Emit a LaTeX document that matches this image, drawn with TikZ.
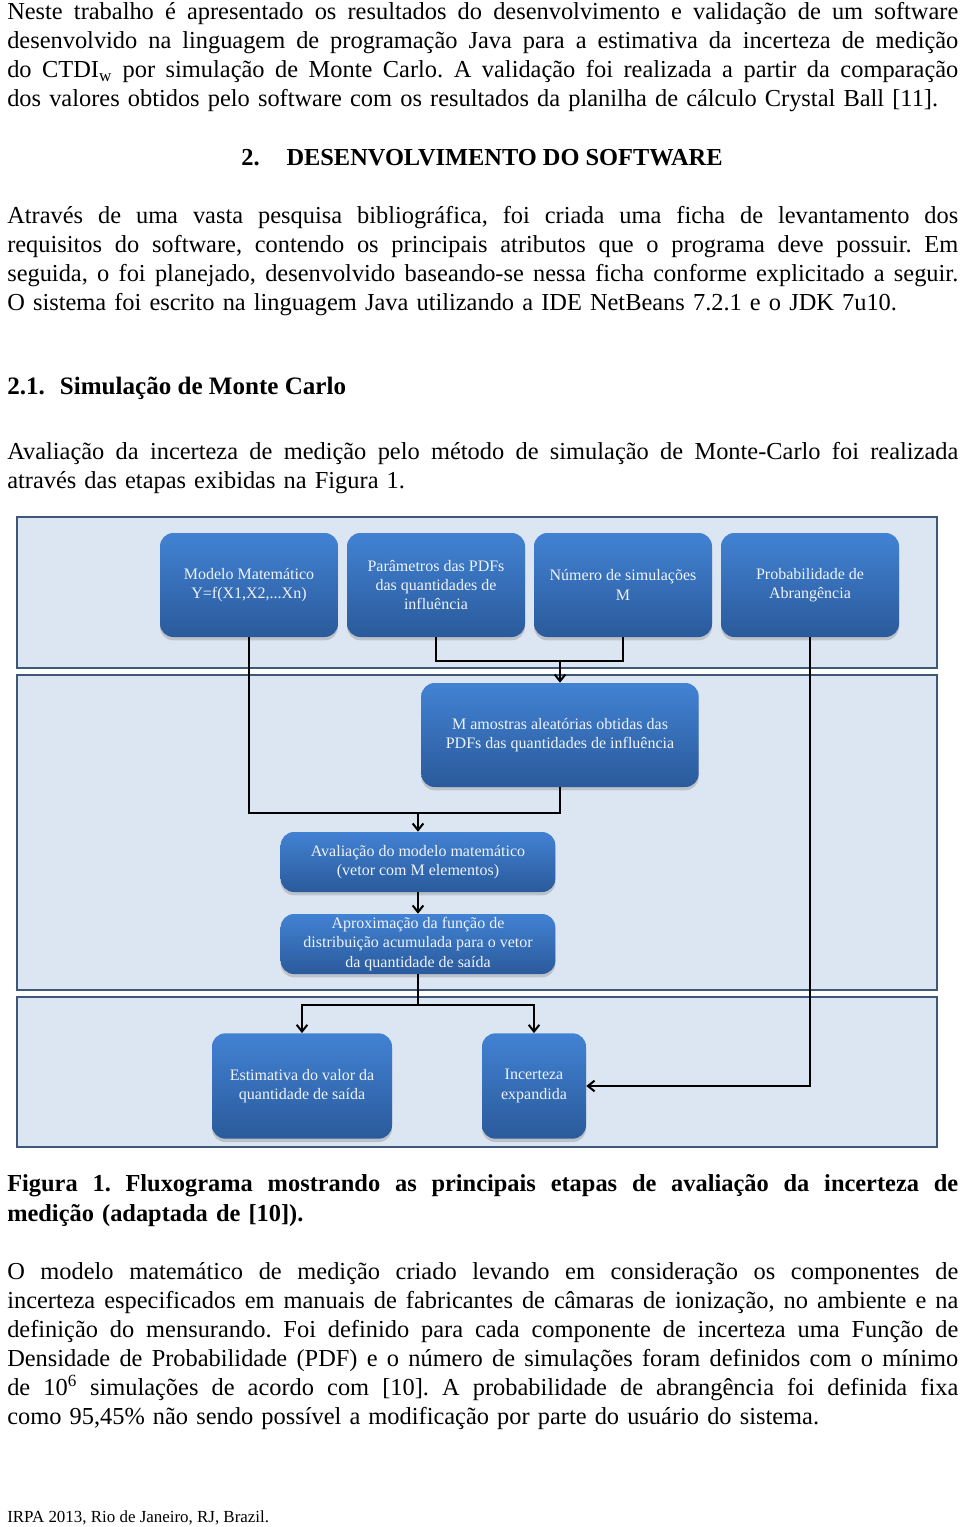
\documentclass[tikz,border=0pt]{standalone}
\usepackage{fontspec}
\setmainfont{Liberation Serif}
\usepackage{xcolor}
\usepackage{tikz}
\usetikzlibrary{arrows.meta}
\usetikzlibrary{shadows}
\tikzset{>={Straight Barb[length=5pt,width=8pt]}}
\definecolor{bandfill}{HTML}{DCE6F2}
\definecolor{bandline}{HTML}{3E5878}
\definecolor{boxtop}{HTML}{4282D3}
\definecolor{boxbot}{HTML}{2A5A9B}
\definecolor{boxtext}{HTML}{EEF3FA}
\newlength{\parwd}
\setlength{\parwd}{713.25pt}
\tikzstyle{band} = [draw=bandline, fill=bandfill, line width=1.2pt]
\tikzstyle{stepbox} = [rectangle, rounded corners=10pt, top color=boxtop, bottom color=boxbot, text=boxtext, align=center, inner sep=2pt, font=\fontsize{12}{14.5}\selectfont, drop shadow={shadow xshift=0pt, shadow yshift=-2.5pt, opacity=0.35}]
\tikzstyle{flow} = [line width=1.5pt, draw=black]
\tikzstyle{para} = [anchor=base west, inner sep=0pt, text width=\parwd, align=left, font=\fontsize{18.3}{21.75}\selectfont\frenchspacing]
\newcommand{\fullline}[1]{\leavevmode\hbox to \parwd{\spaceskip=0.25em plus 2em minus 0.08em\relax #1}\par}

\begin{document}
\begin{tikzpicture}[x=0.75pt, y=-0.75pt]
\fill [white] (0, 0) rectangle (960, 1527);
\useasboundingbox (0, 0) rectangle (960, 1527);
% text above the figure
\node [para] (intro) at (7, 20) {%
\fullline{Neste trabalho é apresentado os resultados do desenvolvimento e validação de um software}
\fullline{desenvolvido na linguagem de programação Java para a estimativa da incerteza de medição}
\fullline{do CTDI\textsubscript{w} por simulação de Monte Carlo. A validação foi realizada a partir da comparação}
dos valores obtidos pelo software com os resultados da planilha de cálculo Crystal Ball [11].};
\node [anchor=base, inner sep=0pt, font=\fontsize{18.3}{21.75}\selectfont\bfseries] (sec2) at (482, 165) {2.\hspace{1.1em}DESENVOLVIMENTO DO SOFTWARE};
\node [para] (par2) at (7, 223) {%
\fullline{Através de uma vasta pesquisa bibliográfica, foi criada uma ficha de levantamento dos}
\fullline{requisitos do software, contendo os principais atributos que o programa deve possuir. Em}
\fullline{seguida, o foi planejado, desenvolvido baseando-se nessa ficha conforme explicitado a seguir.}
O sistema foi escrito na linguagem Java utilizando a IDE NetBeans 7.2.1 e o JDK 7u10.};
\node [anchor=base west, inner sep=0pt, font=\fontsize{18.8}{21.75}\selectfont\bfseries] (sec21) at (7, 394) {2.1.\hspace{0.6em}Simulação de Monte Carlo};
\node [para] (par3) at (7, 459) {%
\fullline{Avaliação da incerteza de medição pelo método de simulação de Monte-Carlo foi realizada}
através das etapas exibidas na Figura 1.};
% figure bands
\draw [band] (17, 517) rectangle (937, 668);
\draw [band] (17, 675) rectangle (937, 990);
\draw [band] (17, 997) rectangle (937, 1147);
% steps
\node [stepbox, minimum width=133.5pt, minimum height=78pt] (model) at (249, 585) {Modelo Matemático\\Y=f(X1,X2,...Xn)};
\node [stepbox, minimum width=133.5pt, minimum height=78pt] (param) at (436, 585) {Parâmetros das PDFs\\das quantidades de\\influência};
\node [stepbox, minimum width=133.5pt, minimum height=78pt] (nsim) at (623, 585) {Número de simulações\\M};
\node [stepbox, minimum width=133.5pt, minimum height=78pt] (prob) at (810, 585) {Probabilidade de\\Abrangência};
\node [stepbox, minimum width=208pt, minimum height=78pt] (samples) at (560, 735) {M amostras aleatórias obtidas das\\PDFs das quantidades de influência};
\node [stepbox, minimum width=206pt, minimum height=45pt] (evalm) at (418, 862) {Avaliação do modelo matemático\\(vetor com M elementos)};
\node [stepbox, minimum width=206pt, minimum height=45pt] (cdf) at (418, 944) {Aproximação da função de\\distribuição acumulada para o vetor\\da quantidade de saída};
\node [stepbox, minimum width=135pt, minimum height=79pt] (estim) at (302, 1086) {Estimativa do valor da\\quantidade de saída};
\node [stepbox, minimum width=78pt, minimum height=79pt] (unc) at (534, 1086) {Incerteza\\expandida};
% junctions
\coordinate (j23) at (560, 661);
\coordinate (j15) at (418, 813);
\coordinate (j7) at (418, 1005);
% connectors
\draw [flow] (param.south) |- (j23) -| (nsim.south);
\draw [flow, ->] (j23) to (samples.north);
\draw [flow] (model.south) |- (j15) -| (samples.south);
\draw [flow, ->] (j15) to (evalm.north);
\draw [flow, ->] (evalm) to (cdf);
\draw [flow] (cdf.south) to (j7);
\draw [flow, ->] (j7) -| (estim.north);
\draw [flow, ->] (j7) -| (unc.north);
\draw [flow, ->] (prob.south) |- (unc.east);
% caption and text below
\node [para, font=\fontsize{18.3}{22.5}\selectfont\bfseries\frenchspacing] (caption) at (7, 1191) {%
\fullline{Figura 1.\hspace{0.6em}Fluxograma mostrando as principais etapas de avaliação da incerteza de}
medição (adaptada de [10]).};
\node [para] (par4) at (7, 1279) {%
\fullline{O modelo matemático de medição criado levando em consideração os componentes de}
\fullline{incerteza especificados em manuais de fabricantes de câmaras de ionização, no ambiente e na}
\fullline{definição do mensurando. Foi definido para cada componente de incerteza uma Função de}
\fullline{Densidade de Probabilidade (PDF) e o número de simulações foram definidos com o mínimo}
\fullline{de 10\textsuperscript{6} simulações de acordo com [10]. A probabilidade de abrangência foi definida fixa}
como 95,45\% não sendo possível a modificação por parte do usuário do sistema.};
\node [anchor=base west, inner sep=0pt, font=\fontsize{12.7}{14}\selectfont] (footer) at (7, 1522) {IRPA 2013, Rio de Janeiro, RJ, Brazil.};
\end{tikzpicture}
\end{document}
